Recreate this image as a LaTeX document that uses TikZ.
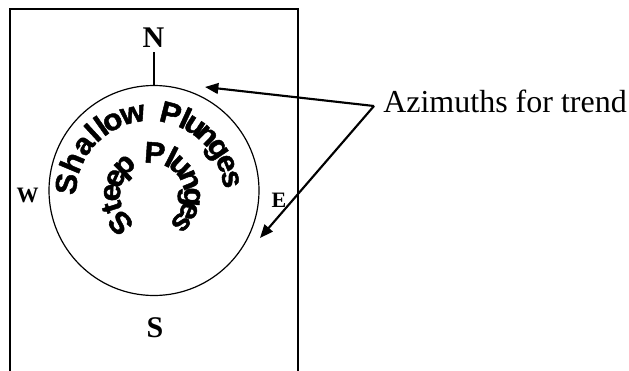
\documentclass[tikz,border=0pt]{standalone}
\usepackage{fontspec}
\setmainfont{Liberation Serif}
\newfontfamily\arcsans{Liberation Sans}[FakeStretch=1.05, FakeBold=1.5]
\usetikzlibrary{arrows.meta}

\begin{document}
\begin{tikzpicture}[x=0.75pt, y=0.75pt,
  frame/.style={line width=0.9pt},
  compass/.style={font=\bfseries\fontsize{22.5}{24}\selectfont, inner sep=0pt},
  side/.style={font=\bfseries\fontsize{16.5}{18}\selectfont, inner sep=0pt},
  arr/.style={-{Triangle[length=10pt, width=8pt]}, line width=1.6pt},
  outerch/.style={font=\arcsans\bfseries\fontsize{22.5}{24}\selectfont,
    inner sep=0pt, anchor=base},
  innerch/.style={font=\arcsans\bfseries\fontsize{22.5}{24}\selectfont,
    inner sep=0pt, anchor=base},
]
\useasboundingbox (0,0) rectangle (629,-371);

%% Frame, open at the bottom
\draw[frame] (10,-380) |- (298,-9) -- (298,-380);

%% Net with north tick
\node[circle, draw, line width=0.9pt, minimum size=157.5pt, inner sep=0pt]
  (net) at (154,-190.5) {};
\coordinate (ntick) at (154,-52);
\draw[frame] (net.north) -- (ntick);

%% Compass letters
\node[compass] (N) at (153.5,-38) {N};
\node[compass] (S) at (155,-328) {S};
\node[side]    (W) at (27.5,-195.5) {W};
\node[side]    (E) at (279,-200) {E};

%% Arched labels, one letter at a time
\coordinate (archO) at (150,-195);
\coordinate (archI) at (152,-195);
\foreach \ch/\ang [count=\i] in {
  S/172.4, h/157.3, a/143.1, l/132.6, l/125.3, o/117, w/102,
  P/75.7, l/65.2, u/57.1, n/46.2, g/34.2, e/22.4, s/11.2}{
  \node[outerch, rotate=\ang-90] (shal\i) at ([shift={(\ang:74)}]archO) {\ch};
}
\foreach \ch/\ang [count=\i] in {
  S/221.5, t/197, e/176.6, e/155.5, p/133,
  P/86, l/63, u/46, n/22, g/-3, e/-23, s/-43}{
  \node[innerch, rotate=\ang-90] (stp\i) at ([shift={(\ang:32)}]archI) {\ch};
}

%% Callout
\node[font=\fontsize{24}{26}\selectfont, inner sep=0pt, anchor=base west]
  (lbl) at (383,-112) {Azimuths for trend};
\coordinate (src)  at (374,-106);
\coordinate (tipA) at (205,-87);
\coordinate (tipB) at (260,-238);
\draw[arr] (src) -- (tipA);
\draw[arr] (src) -- (tipB);
\end{tikzpicture}
\end{document}
